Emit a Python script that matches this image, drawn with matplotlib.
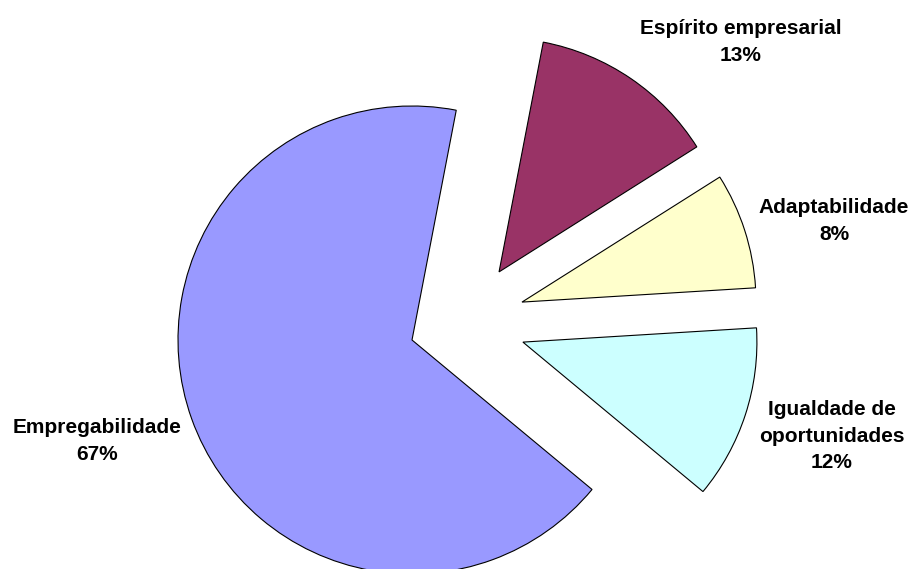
import matplotlib
matplotlib.use("Agg")
import matplotlib.pyplot as plt

# Slice data (clockwise from the top-right)
categories = ["Espírito empresarial", "Adaptabilidade", "Igualdade de\noportunidades", "Empregabilidade"]
shares = [13, 8, 12, 67]
colors = ["#993366", "#FFFFCC", "#CCFFFF", "#9999FF"]

# Offsets of the pulled-out slices (in units of the pie radius)
offsets = [(0.372, 0.291), (0.470, 0.162), (0.474, -0.009), (0.0, 0.0)]

W, H = 912, 569
R_PX = 234.0
CX, CY = 412.0, 340.0

# Label anchor points in pixels (x from left, y from top)
label_px = [(741, 42), (834, 221), (832, 436), (97, 441)]

fig = plt.figure(figsize=(W / 100, H / 100), dpi=100)
ax = fig.add_axes([0, 0, 1, 1])

wedges, _ = ax.pie(shares, colors=colors, startangle=79.1, counterclock=False,
                   radius=1.0, center=(0, 0), frame=True,
                   wedgeprops=dict(edgecolor="black", linewidth=0.8))
ax.set_xlim(-CX / R_PX, (W - CX) / R_PX)
ax.set_ylim(-(H - CY) / R_PX, CY / R_PX)
ax.axis("off")

for w, (dx, dy) in zip(wedges, offsets):
    w.set_center((dx, dy))

for name, val, (px, py) in zip(categories, shares, label_px):
    ax.text(px / W, 1 - py / H, f"{name}\n{val}%", transform=ax.transAxes,
            ha="center", va="center", fontsize=15, fontweight="bold",
            family="Liberation Sans", linespacing=1.5, color="black")

fig.savefig("out.png", dpi=100)
